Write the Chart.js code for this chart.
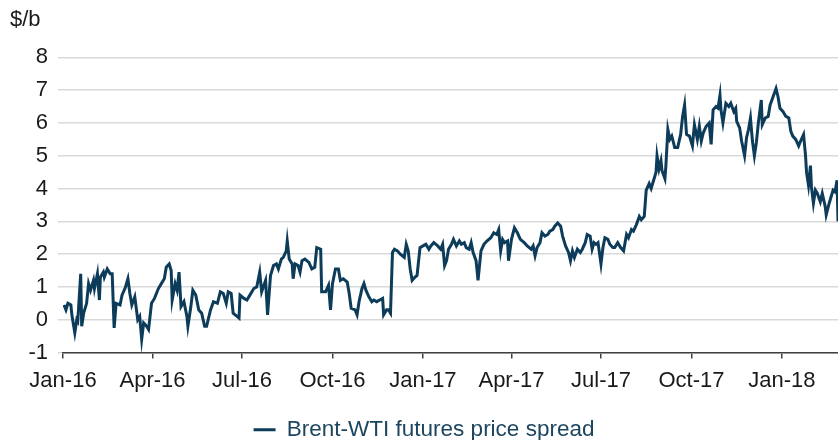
<!DOCTYPE html>
<html>
<head>
<meta charset="utf-8">
<script src="https://cdn.jsdelivr.net/npm/chart.js@4.4.1/dist/chart.umd.min.js"></script>
<style>
  html, body { margin: 0; padding: 0; background: #fff; }
  canvas { display: block; }
</style>
</head>
<body>
<canvas id="chartSpread" width="838" height="440"></canvas>
<script>
// ── Datos: días desde 1-ene-2016 y diferencial Brent-WTI ($/b) ──
const days = [
    1, 3, 5, 8, 9, 12, 14, 15, 18, 19, 21, 24, 26, 28, 31, 32, 35, 37, 38, 41,
    42, 45, 48, 50, 52, 54, 58, 60, 63, 66, 68, 70, 73, 76, 78, 80, 82, 85, 87, 90,
    93, 97, 100, 103, 105, 108, 110, 111, 114, 116, 118, 120, 123, 126, 127, 130, 132, 135,
    138, 141, 144, 146, 150, 153, 157, 160, 163, 166, 168, 171, 173, 177, 179, 180, 184, 187, 190, 194,
    197, 200, 202, 206, 208, 211, 214, 217, 219, 222, 224, 227, 228, 230, 233, 234, 236, 239, 241, 243,
    246, 250, 253, 256, 258, 262, 263, 267, 270, 272, 274, 277, 280,
    282, 285, 289, 291, 293, 297, 299, 301, 304, 306, 308, 311, 314, 316, 319, 322, 325, 326, 329, 331,
    333, 335, 337, 340, 343, 347, 349, 351, 353, 355, 358, 360, 363, 366, 369, 372, 374, 377, 381, 384,
    386, 388, 390, 392, 395, 397, 400, 403, 405, 408, 410, 413, 415, 417, 420, 422, 425,
    428, 431, 435, 438, 441, 443, 445, 447, 449, 452, 453, 456, 459, 462, 465, 469, 472, 476, 478, 480,
    482, 485, 487, 490, 493, 495, 498, 500, 503, 506, 508, 511, 514, 516, 518, 520, 523, 526, 528, 531,
    533, 536, 538, 540, 542, 544, 547, 549, 551, 554, 556, 559, 561, 564, 567,
    570, 573, 575, 578, 580, 583, 586, 588, 591, 593, 596, 598, 601, 603, 604, 606, 608, 609, 612, 613,
    615, 617, 619, 622, 625, 628, 630, 632, 634, 637, 640, 642, 645, 647, 649, 651, 654, 657, 659, 661,
    664, 666, 668, 669, 671, 674,
    677, 679, 682, 684, 685, 688, 690, 693, 695, 697, 699, 701, 703, 705, 707, 710, 711, 714, 717, 719,
    722, 725, 727, 729, 732, 735, 738, 740, 742, 745, 748, 750, 753, 755, 756, 758, 760, 761, 763, 765,
    767, 770, 772, 775, 776, 779, 781, 783, 785, 787, 788
];
const spread = [
    0.45, 0.3, 0.5, 0.45, 0.15, -0.4, 0, -0.05, 1.4, -0.2, 0.2, 0.5, 1.1, 0.9, 1.2, 0.95, 1.4, 0.6, 1.3, 1.45,
    1.3, 1.55, 1.4, 1.4, -0.25, 0.5, 0.45, 0.75, 0.95, 1.25, 0.8, 0.45, 0.7, 0.0, 0.1, -0.6, -0.1, -0.2, -0.3, 0.5,
    0.65, 0.95, 1.1, 1.25, 1.6, 1.7, 1.5, 0.6, 1.1, 0.9, 1.45, 0.4, 0.55, 0.1, -0.2, 0.4, 0.9, 0.75,
    0.3, 0.2, -0.2, -0.2, 0.3, 0.55, 0.5, 0.85, 0.8, 0.5, 0.85, 0.8, 0.2, 0.1, 0.05, 0.75, 0.65, 0.6, 0.75, 0.95,
    1.0, 1.45, 0.85, 1.2, 0.15, 1.35, 1.65, 1.7, 1.55, 1.85, 1.9, 2.1, 2.4, 1.85, 1.7, 1.25, 1.7, 1.65, 1.45, 1.8,
    1.85, 1.75, 1.55, 1.6, 2.2, 2.15, 0.85, 0.85, 1.05, 0.3, 1.1, 1.55, 1.55,
    1.2, 1.25, 1.15, 0.8, 0.35, 0.3, 0.15, 0.55, 0.95, 1.1, 0.9, 0.7, 0.55, 0.6, 0.55, 0.6, 0.65, 0.15, 0.3, 0.3,
    0.2, 2.05, 2.15, 2.1, 2.0, 1.9, 2.3, 2.1, 1.55, 1.2, 1.3, 1.35, 2.2, 2.25, 2.3, 2.15, 2.25, 2.35, 2.25, 2.15,
    2.3, 1.65, 1.8, 2.15, 2.3, 2.45, 2.25, 2.4, 2.3, 2.35, 2.2, 2.15, 2.35, 2.05, 1.8, 1.2, 2.1,
    2.3, 2.4, 2.5, 2.65, 2.6, 2.75, 2.1, 2.45, 2.35, 2.4, 1.8, 2.45, 2.8, 2.65, 2.45, 2.35, 2.25, 2.15, 2.25, 1.95,
    2.2, 2.35, 2.65, 2.55, 2.6, 2.7, 2.75, 2.85, 2.95, 2.85, 2.55, 2.25, 2.05, 1.8, 2.1, 1.9, 2.15, 2.05, 2.15, 2.35,
    2.6, 2.55, 2.15, 2.35, 2.3, 2.35, 1.7, 2.2, 2.5, 2.45, 2.3, 2.2, 2.2, 2.35, 2.2,
    2.1, 2.6, 2.5, 2.75, 2.7, 2.9, 3.15, 3.05, 3.15, 3.95, 4.15, 4.0, 4.3, 4.5, 5.0, 4.6, 4.85, 4.55, 4.3, 4.7,
    5.8, 5.5, 5.6, 5.25, 5.25, 5.65, 6.2, 6.55, 5.65, 5.6, 5.3, 5.95, 5.5, 5.9, 5.45, 5.7, 5.9, 6.0, 5.35, 6.4,
    6.5, 6.45, 6.85, 6.4, 6.0, 6.6,
    6.5, 6.6, 6.35, 6.45, 6.05, 5.85, 5.45, 5.0, 5.55, 5.8, 6.15, 5.45, 5.0, 5.4, 6.0, 6.7, 5.95, 6.15, 6.2, 6.55,
    6.8, 7.05, 6.8, 6.45, 6.35, 6.2, 6.15, 5.75, 5.6, 5.5, 5.3, 5.45, 5.65, 5.0, 4.5, 4.1, 4.7, 4.05, 3.55, 3.95,
    3.85, 3.6, 3.85, 3.45, 3.2, 3.55, 3.75, 3.95, 3.9, 4.25, 3.0
];
const tickDays   = [0, 91, 182, 274, 366, 456, 547, 639, 731];
const tickLabels = ['Jan-16', 'Apr-16', 'Jul-16', 'Oct-16', 'Jan-17', 'Apr-17', 'Jul-17', 'Oct-17', 'Jan-18'];
const lastDay = 788;

const LINEA = '#0c3c5a';
const TEXTO = '#1a1a1a';
const FUENTE = { family: "'Liberation Sans', Arial, sans-serif", size: 22, weight: 'normal' };

// ── Gráfico de línea ──
new Chart(document.getElementById('chartSpread').getContext('2d'), {
    type: 'line',
    data: {
        datasets: [{
            label: 'Brent-WTI futures price spread',
            data: days.map((d, i) => ({ x: d, y: spread[i] })),
            borderColor: LINEA,
            backgroundColor: LINEA,
            borderWidth: 3,
            pointRadius: 0,
            tension: 0
        }]
    },
    options: {
        responsive: false,
        animation: false,
        layout: { padding: { left: 10, right: 0, top: 0, bottom: -11 } },
        plugins: {
            tooltip: { enabled: false },
            title: {
                display: true, text: '$/b', align: 'start', color: TEXTO,
                font: FUENTE, padding: { top: 7, bottom: 24 }
            },
            legend: {
                position: 'bottom',
                labels: {
                    usePointStyle: true, pointStyle: 'line', pointStyleWidth: 22,
                    color: '#1d4560', font: { ...FUENTE, size: 22.5 }, padding: 1
                }
            }
        },
        scales: {
            x: {
                type: 'linear', min: 0, max: lastDay,
                afterBuildTicks: s => { s.ticks = tickDays.map(v => ({ value: v })); },
                afterFit: s => { s.height = 65; },
                ticks: {
                    callback: v => tickLabels[tickDays.indexOf(v)],
                    autoSkip: false, maxRotation: 0, color: TEXTO, font: FUENTE, padding: 9
                },
                grid: { drawOnChartArea: false, drawTicks: true, tickLength: 6, color: '#404040', lineWidth: 1.5 },
                border: { color: '#404040', width: 1.5 }
            },
            y: {
                min: -1, max: 8,
                afterFit: s => { s.width = 53; },
                ticks: { stepSize: 1, color: TEXTO, font: FUENTE, padding: 10 },
                grid: { color: '#d9d9d9', lineWidth: 1.5, tickLength: 5 },
                border: { display: false }
            }
        }
    }
});
</script>
</body>
</html>
